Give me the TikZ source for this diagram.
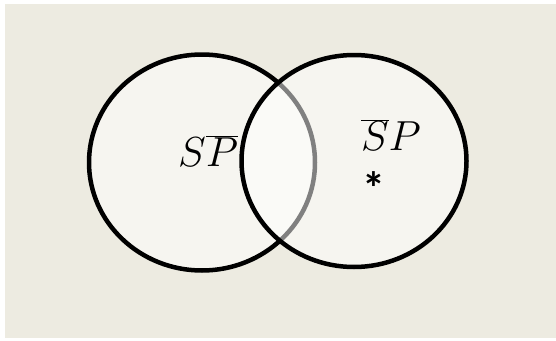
\RequirePackage{fix-cm}
\documentclass[tikz,border=0pt]{standalone}
\usepackage{fontspec}
\usetikzlibrary{shapes.geometric}
\newfontfamily\astfont{Carlito}
\definecolor{paper}{HTML}{EDEBE1}
\tikzset{
  setbox/.style={ellipse, draw=black, line width=4.5pt, fill=white, fill opacity=0.5,
                 draw opacity=1, inner sep=0pt, outer sep=0pt},
  lbl/.style={inner sep=0pt, font=\fontsize{42}{42}\selectfont}
}
\begin{document}
\begin{tikzpicture}[x=1pt, y=-1pt]
  \useasboundingbox (0,0) rectangle (556,340);
  \fill[white] (0,0) rectangle (556,340);
  \fill[paper] (5,4) rectangle (556,338);
  % the two overlapping sets, each a translucent disc
  \node[setbox, minimum width=226pt, minimum height=216pt] (S) at (202,162.5) {};
  \node[setbox, minimum width=225pt, minimum height=212pt] (P) at (354,161) {};
  % region labels
  \node[lbl, anchor=base] (sp) at (208,166) {$S\overline{P}$};
  \node[lbl, anchor=base] (ps) at (391,150) {$\overline{S}P$};
  \node[inner sep=0pt, font=\astfont\bfseries\fontsize{46}{46}\selectfont] (star) at (373.5,188) {*};
\end{tikzpicture}
\end{document}
